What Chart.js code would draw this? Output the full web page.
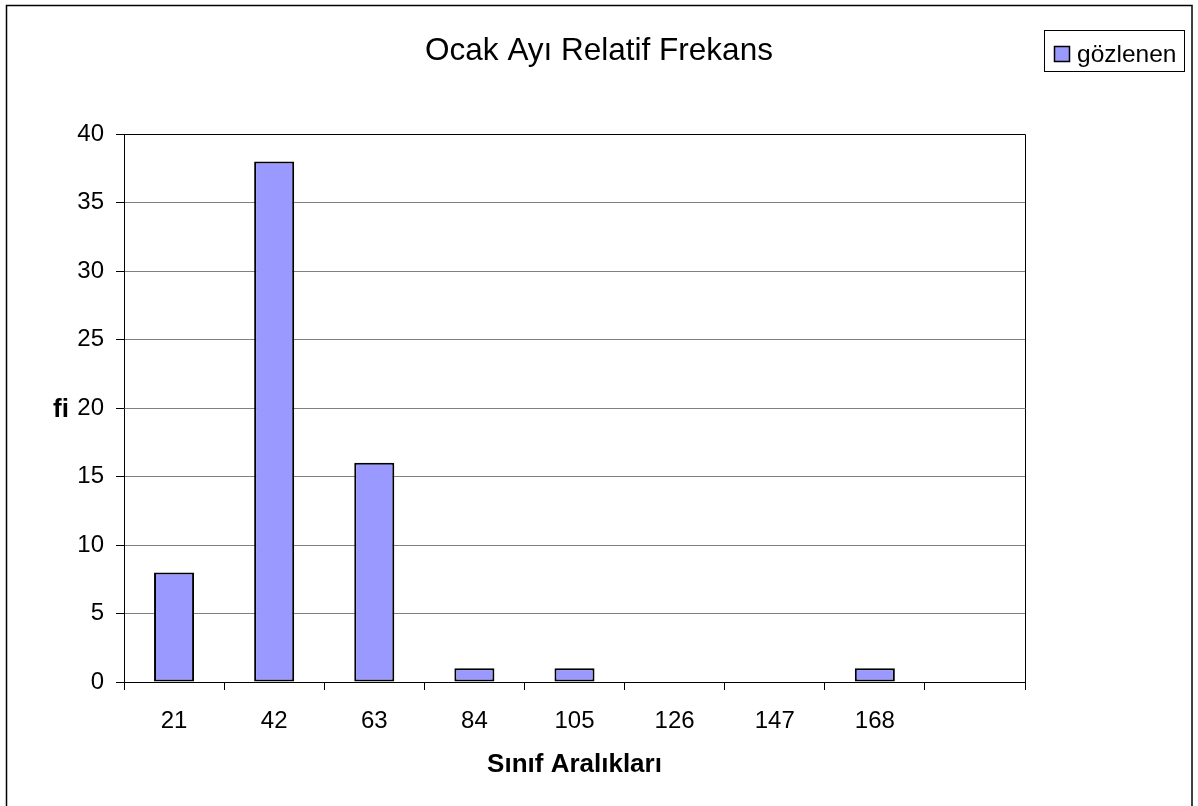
<!DOCTYPE html>
<html>
<head>
<meta charset="utf-8">
<script src="https://cdn.jsdelivr.net/npm/chart.js@4.4.1/dist/chart.umd.min.js"></script>
<style>
  html, body { margin: 0; padding: 0; background: #fff; }
  #wrap { width: 1198px; height: 806px; position: relative; }
</style>
</head>
<body>
<div id="wrap"><canvas id="c" width="1198" height="806"></canvas></div>
<script>
// Class intervals (last slot is an empty category)
const categories = ['21', '42', '63', '84', '105', '126', '147', '168', ''];
// Observed frequencies per class
const observed = [8, 38, 16, 1, 1, 0, 0, 1, null];
const seriesName = 'gözlenen';
const chartTitle = 'Ocak Ayı Relatif Frekans';
const xAxisTitle = 'Sınıf Aralıkları';
const yAxisTitle = 'fi';
const yMin = 0, yMax = 40, yStep = 5;

const FONT = "'Liberation Sans', Arial, sans-serif";
const BAR_FILL = '#9999FF';

// Frame, title, axis titles, plot border and legend box
const decorations = {
  id: 'decorations',
  beforeDraw(chart) {
    const ctx = chart.ctx;
    ctx.save();
    ctx.fillStyle = '#fff';
    ctx.fillRect(0, 0, chart.width, chart.height);
    ctx.restore();
  },
  afterDraw(chart) {
    const ctx = chart.ctx;
    const a = chart.chartArea;
    ctx.save();
    // outer frame
    ctx.strokeStyle = '#000';
    ctx.lineWidth = 1.5;
    ctx.strokeRect(6.5, 5.5, 1185.5, 820);
    // plot area border (top + right)
    ctx.lineWidth = 1;
    ctx.beginPath();
    ctx.moveTo(Math.round(a.left) + 0.5, Math.round(a.top) + 0.5);
    ctx.lineTo(Math.round(a.right) + 0.5, Math.round(a.top) + 0.5);
    ctx.lineTo(Math.round(a.right) + 0.5, Math.round(a.bottom) + 0.5);
    ctx.stroke();

    ctx.fillStyle = '#000';
    ctx.textBaseline = 'alphabetic';
    // chart title
    ctx.font = '31.5px ' + FONT;
    ctx.textAlign = 'center';
    ctx.fillText(chartTitle, chart.width / 2, 60);
    // x axis title
    ctx.font = 'bold 26px ' + FONT;
    ctx.fillText(xAxisTitle, (a.left + a.right) / 2, 772);
    // y axis title (horizontal)
    ctx.fillText(yAxisTitle, 61, chart.scales.y.getPixelForValue(20) + 9);

    // legend
    const ds = chart.data.datasets[0];
    ctx.lineWidth = 1;
    ctx.strokeRect(1044.5, 30.5, 140, 41);
    ctx.fillStyle = ds.backgroundColor;
    ctx.fillRect(1054, 46, 16, 16);
    ctx.lineWidth = 1.5;
    ctx.strokeRect(1054.5, 46.5, 15, 15);
    ctx.fillStyle = '#000';
    ctx.font = '24.5px ' + FONT;
    ctx.textAlign = 'left';
    ctx.fillText(ds.label, 1077, 62);
    ctx.restore();
  }
};

new Chart(document.getElementById('c'), {
  type: 'bar',
  data: {
    labels: categories,
    datasets: [{
      label: seriesName,
      data: observed,
      backgroundColor: BAR_FILL,
      borderColor: '#000',
      borderWidth: 2,
      borderSkipped: false,
      categoryPercentage: 1.0,
      barPercentage: 0.4
    }]
  },
  options: {
    responsive: false,
    animation: false,
    devicePixelRatio: 1,
    layout: { padding: { left: 0, top: 134, right: 173, bottom: 0 } },
    plugins: {
      legend: { display: false },
      title: { display: false },
      tooltip: { enabled: false }
    },
    scales: {
      x: {
        type: 'category',
        offset: true,
        grid: {
          offset: true,
          drawOnChartArea: false,
          drawTicks: true,
          tickLength: 8,
          color: '#000'
        },
        border: { display: true, color: '#000', width: 1 },
        ticks: {
          color: '#000',
          font: { family: FONT, size: 24 },
          padding: 17,
          maxRotation: 0,
          autoSkip: false
        },
        afterFit(scale) { scale.height = 124; }
      },
      y: {
        min: yMin,
        max: yMax,
        grid: {
          color: '#808080',
          tickColor: '#000',
          tickLength: 8,
          drawTicks: true
        },
        border: { display: true, color: '#000', width: 1 },
        ticks: {
          stepSize: yStep,
          color: '#000',
          font: { family: FONT, size: 24 },
          padding: 12
        },
        afterFit(scale) { scale.width = 124; }
      }
    }
  },
  plugins: [decorations]
});
</script>
</body>
</html>
